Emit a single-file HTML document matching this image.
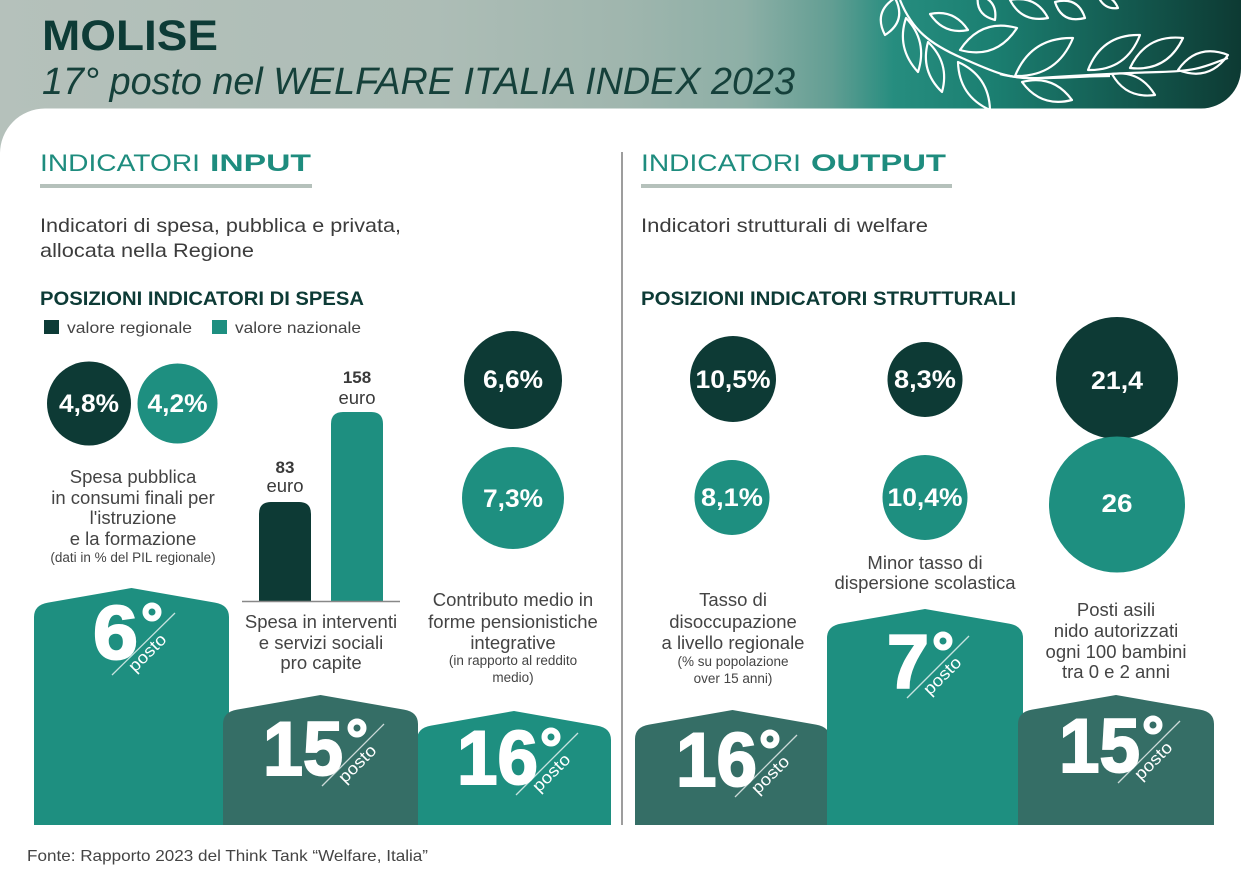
<!DOCTYPE html>
<html><head><meta charset="utf-8">
<style>
html,body{margin:0;padding:0;background:#fff;}
svg{display:block;}
text{font-family:"Liberation Sans",sans-serif;}
</style></head>
<body>
<svg width="1241" height="875" viewBox="0 0 1241 875" xmlns="http://www.w3.org/2000/svg">
<defs>
<linearGradient id="hg" x1="0" y1="0" x2="1241" y2="0" gradientUnits="userSpaceOnUse">
<stop offset="0" stop-color="#b5c1bb"/>
<stop offset="0.35" stop-color="#adbdb6"/>
<stop offset="0.5" stop-color="#a0b6ae"/>
<stop offset="0.6" stop-color="#8dafa6"/>
<stop offset="0.67" stop-color="#629e93"/>
<stop offset="0.72" stop-color="#268d7f"/>
<stop offset="0.8" stop-color="#1b7f71"/>
<stop offset="1" stop-color="#0d3a33"/>
</linearGradient>
</defs>
<!-- header -->
<rect x="0" y="90" width="70" height="75" fill="#b5c1bb"/>
<path d="M0,0 H1241 V68 A40,40 0 0 1 1201,108.5 H0 Z" fill="url(#hg)"/>
<path d="M0,154 A45,45 0 0 1 45,108.5 L1241,108.5 L1241,875 L0,875 Z" fill="#fff"/>
<text x="42" y="50" font-size="43" font-weight="bold" fill="#0d3b36" textLength="176" lengthAdjust="spacingAndGlyphs">MOLISE</text>
<text x="42" y="94" font-size="38" font-style="italic" fill="#15403a" textLength="753" lengthAdjust="spacingAndGlyphs">17° posto nel WELFARE ITALIA INDEX 2023</text>
<!-- leaves -->
<g fill="none" stroke="#fff" stroke-width="2.2" stroke-linejoin="round">
<path d="M900,0 C912,30 930,44 962,58 S1010,80 1040,78 S1120,73 1160,72 S1205,66 1228,58"/>
<path d="M1000,74 C1030,82 1070,76 1110,76"/>
<path d="M885,35 Q907,21 895,-2 Q873,12 885,35Z"/>
<path d="M906,18 Q896,48 918,72 Q928,41 906,18Z"/>
<path d="M968,30 Q954,9 930,14 Q944,35 968,30Z"/>
<path d="M960,50 Q996,60 1017,28 Q981,18 960,50Z"/>
<path d="M928,42 Q920,71 942,92 Q950,63 928,42Z"/>
<path d="M958,62 Q959,96 990,110 Q989,76 958,62Z"/>
<path d="M1015,76 Q1057,77 1073,38 Q1031,37 1015,76Z"/>
<path d="M1022,82 Q1041,108 1072,100 Q1053,74 1022,82Z"/>
<path d="M1088,70 Q1126,71 1140,35 Q1102,34 1088,70Z"/>
<path d="M1112,74 Q1126,99 1155,95 Q1140,70 1112,74Z"/>
<path d="M1130,68 Q1167,72 1183,38 Q1146,34 1130,68Z"/>
<path d="M1178,70 Q1209,82 1228,55 Q1197,43 1178,70Z"/>
<path d="M995,20 Q998,0 978,-5 Q975,15 995,20Z"/>
<path d="M1048,18 Q1036,-5 1010,0 Q1022,23 1048,18Z"/>
<path d="M1085,18 Q1078,-4 1055,2 Q1062,24 1085,18Z"/>
<path d="M1118,8 Q1112,-6 1098,-4 Q1104,10 1118,8Z"/>
</g>

<!-- section headings -->
<text x="40" y="171" font-size="24.5" fill="#1e8c7e" textLength="160" lengthAdjust="spacingAndGlyphs">INDICATORI</text>
<text x="210" y="171" font-size="24.5" font-weight="bold" fill="#1e8c7e" textLength="101" lengthAdjust="spacingAndGlyphs">INPUT</text>
<rect x="40" y="184" width="272" height="4" fill="#b5c1bb"/>
<text x="641" y="171" font-size="24.5" fill="#1e8c7e" textLength="160" lengthAdjust="spacingAndGlyphs">INDICATORI</text>
<text x="811" y="171" font-size="24.5" font-weight="bold" fill="#1e8c7e" textLength="135" lengthAdjust="spacingAndGlyphs">OUTPUT</text>
<rect x="641" y="184" width="311" height="4" fill="#b5c1bb"/>
<line x1="622" y1="152" x2="622" y2="825" stroke="#7d7d7d" stroke-width="1.5"/>

<g fill="#3c3c3c" font-size="19.5">
<text x="40" y="232" textLength="361" lengthAdjust="spacingAndGlyphs">Indicatori di spesa, pubblica e privata,</text>
<text x="40" y="257" textLength="214" lengthAdjust="spacingAndGlyphs">allocata nella Regione</text>
<text x="641" y="232" textLength="287" lengthAdjust="spacingAndGlyphs">Indicatori strutturali di welfare</text>
</g>
<text x="40" y="305" font-size="19.5" font-weight="bold" fill="#0d3b36" textLength="324" lengthAdjust="spacingAndGlyphs">POSIZIONI INDICATORI DI SPESA</text>
<text x="641" y="305" font-size="19.5" font-weight="bold" fill="#0d3b36" textLength="375" lengthAdjust="spacingAndGlyphs">POSIZIONI INDICATORI STRUTTURALI</text>

<!-- legend -->
<rect x="44" y="320" width="15" height="14" fill="#0d3b36"/>
<text x="67" y="333" font-size="16" fill="#444" textLength="125" lengthAdjust="spacingAndGlyphs">valore regionale</text>
<rect x="212" y="320" width="15" height="14" fill="#1e8f80"/>
<text x="235" y="333" font-size="16" fill="#444" textLength="126" lengthAdjust="spacingAndGlyphs">valore nazionale</text>

<!-- circles -->
<circle cx="89" cy="403.5" r="42" fill="#0d3a35"/>
<circle cx="177.5" cy="403.5" r="40" fill="#1e8f80"/>
<circle cx="513" cy="380" r="49" fill="#0d3a35"/>
<circle cx="513" cy="498" r="51" fill="#1e8f80"/>
<circle cx="733" cy="379" r="43" fill="#0d3a35"/>
<circle cx="925" cy="379.5" r="37.5" fill="#0d3a35"/>
<circle cx="1117" cy="378" r="61" fill="#0d3a35"/>
<circle cx="732" cy="497.5" r="37.5" fill="#1e8f80"/>
<circle cx="925" cy="497.5" r="42.5" fill="#1e8f80"/>
<circle cx="1117" cy="504.5" r="68" fill="#1e8f80"/>
<g fill="#fff" font-size="25" font-weight="bold" text-anchor="middle">
<text x="89" y="412" textLength="60" lengthAdjust="spacingAndGlyphs">4,8%</text>
<text x="177.5" y="412" textLength="60" lengthAdjust="spacingAndGlyphs">4,2%</text>
<text x="513" y="388" textLength="60" lengthAdjust="spacingAndGlyphs">6,6%</text>
<text x="513" y="507" textLength="60" lengthAdjust="spacingAndGlyphs">7,3%</text>
<text x="733" y="388" textLength="75" lengthAdjust="spacingAndGlyphs">10,5%</text>
<text x="925" y="388" textLength="62" lengthAdjust="spacingAndGlyphs">8,3%</text>
<text x="1117" y="389" textLength="52" lengthAdjust="spacingAndGlyphs">21,4</text>
<text x="732" y="506" textLength="62" lengthAdjust="spacingAndGlyphs">8,1%</text>
<text x="925" y="506" textLength="75" lengthAdjust="spacingAndGlyphs">10,4%</text>
<text x="1117" y="512" textLength="31" lengthAdjust="spacingAndGlyphs">26</text>
</g>

<!-- bars -->
<path d="M259,601 L259,514 Q259,502 271,502 L299,502 Q311,502 311,514 L311,601 Z" fill="#0d3a35"/>
<path d="M331,601 L331,424 Q331,412 343,412 L371,412 Q383,412 383,424 L383,601 Z" fill="#1e8f80"/>
<line x1="242" y1="601.5" x2="400" y2="601.5" stroke="#888" stroke-width="1.5"/>
<g fill="#3a3a3a" text-anchor="middle">
<text x="285" y="473" font-size="17" font-weight="bold">83</text>
<text x="285" y="492" font-size="18.5">euro</text>
<text x="357" y="383" font-size="17" font-weight="bold">158</text>
<text x="357" y="404" font-size="18.5">euro</text>
</g>

<!-- descriptive texts -->
<g fill="#444" text-anchor="middle" font-size="18.5">
<text x="133" y="483">Spesa pubblica</text>
<text x="133" y="504">in consumi finali per</text>
<text x="133" y="524">l'istruzione</text>
<text x="133" y="545">e la formazione</text>
<text x="133" y="562" font-size="13.5">(dati in % del PIL regionale)</text>

<text x="321" y="628">Spesa in interventi</text>
<text x="321" y="649">e servizi sociali</text>
<text x="321" y="669">pro capite</text>

<text x="513" y="606">Contributo medio in</text>
<text x="513" y="628">forme pensionistiche</text>
<text x="513" y="649">integrative</text>
<text x="513" y="665" font-size="13.5">(in rapporto al reddito</text>
<text x="513" y="682" font-size="13.5">medio)</text>

<text x="733" y="606">Tasso di</text>
<text x="733" y="628">disoccupazione</text>
<text x="733" y="649">a livello regionale</text>
<text x="733" y="666" font-size="13.5">(% su popolazione</text>
<text x="733" y="683" font-size="13.5">over 15 anni)</text>

<text x="925" y="569">Minor tasso di</text>
<text x="925" y="589">dispersione scolastica</text>

<text x="1116" y="616">Posti asili</text>
<text x="1116" y="637">nido autorizzati</text>
<text x="1116" y="658">ogni 100 bambini</text>
<text x="1116" y="678">tra 0 e 2 anni</text>
</g>

<!-- podiums -->
<path d="M34,825 L34,617 Q34,605 48,602.6 L131.5,588 L215,602.6 Q229,605 229,617 L229,825Z" fill="#1e8f80"/>
<path d="M417,825 L417,740 Q417,728 431,725.6 L514,711 L597,725.6 Q611,728 611,740 L611,825Z" fill="#1e8f80"/>
<path d="M223,825 L223,724 Q223,712 237,709.6 L320.5,695 L404,709.6 Q418,712 418,724 L418,825Z" fill="#356e66"/>
<path d="M635,825 L635,739 Q635,727 649,724.6 L732.5,710 L816,724.6 Q830,727 830,739 L830,825Z" fill="#356e66"/>
<path d="M827,825 L827,638 Q827,626 841,623.6 L925,609 L1009,623.6 Q1023,626 1023,638 L1023,825Z" fill="#1e8f80"/>
<path d="M1018,825 L1018,724 Q1018,712 1032,709.6 L1116,695 L1200,709.6 Q1214,712 1214,724 L1214,825Z" fill="#356e66"/>

<!-- podium numbers -->
<g fill="#fff" stroke="#fff" stroke-width="2" font-size="76" font-weight="bold">
<text x="93" y="659" textLength="45" lengthAdjust="spacingAndGlyphs">6</text>
<text x="263" y="775" textLength="80" lengthAdjust="spacingAndGlyphs">15</text>
<text x="457" y="784" textLength="81" lengthAdjust="spacingAndGlyphs">16</text>
<text x="676" y="786" textLength="81" lengthAdjust="spacingAndGlyphs">16</text>
<text x="887" y="688" textLength="42" lengthAdjust="spacingAndGlyphs">7</text>
<text x="1059" y="772" textLength="81" lengthAdjust="spacingAndGlyphs">15</text>
</g>
<g fill="none" stroke="#fff" stroke-width="6">
<circle cx="152" cy="612" r="6.5"/>
<circle cx="357" cy="728" r="6.5"/>
<circle cx="551" cy="737" r="6.5"/>
<circle cx="770" cy="739" r="6.5"/>
<circle cx="943" cy="641" r="6.5"/>
<circle cx="1153" cy="725" r="6.5"/>
</g>
<g stroke="#ffffff" stroke-opacity="0.75" stroke-width="1.3">
<line x1="112" y1="675" x2="175" y2="613"/>
<line x1="322" y1="786" x2="384" y2="724"/>
<line x1="516" y1="795" x2="578" y2="733"/>
<line x1="735" y1="797" x2="797" y2="735"/>
<line x1="907" y1="698" x2="969" y2="636"/>
<line x1="1118" y1="783" x2="1180" y2="721"/>
</g>
<g fill="#fff" font-size="17">
<text x="0" y="0" transform="translate(135,673) rotate(-45)" textLength="46" lengthAdjust="spacingAndGlyphs">posto</text>
<text x="0" y="0" transform="translate(345,784) rotate(-45)" textLength="46" lengthAdjust="spacingAndGlyphs">posto</text>
<text x="0" y="0" transform="translate(539,793) rotate(-45)" textLength="46" lengthAdjust="spacingAndGlyphs">posto</text>
<text x="0" y="0" transform="translate(758,795) rotate(-45)" textLength="46" lengthAdjust="spacingAndGlyphs">posto</text>
<text x="0" y="0" transform="translate(930,696) rotate(-45)" textLength="46" lengthAdjust="spacingAndGlyphs">posto</text>
<text x="0" y="0" transform="translate(1141,781) rotate(-45)" textLength="46" lengthAdjust="spacingAndGlyphs">posto</text>
</g>

<!-- footer -->
<text x="27" y="861" font-size="16" fill="#444" textLength="401" lengthAdjust="spacingAndGlyphs">Fonte: Rapporto 2023 del Think Tank “Welfare, Italia”</text>
</svg>
</body></html>
